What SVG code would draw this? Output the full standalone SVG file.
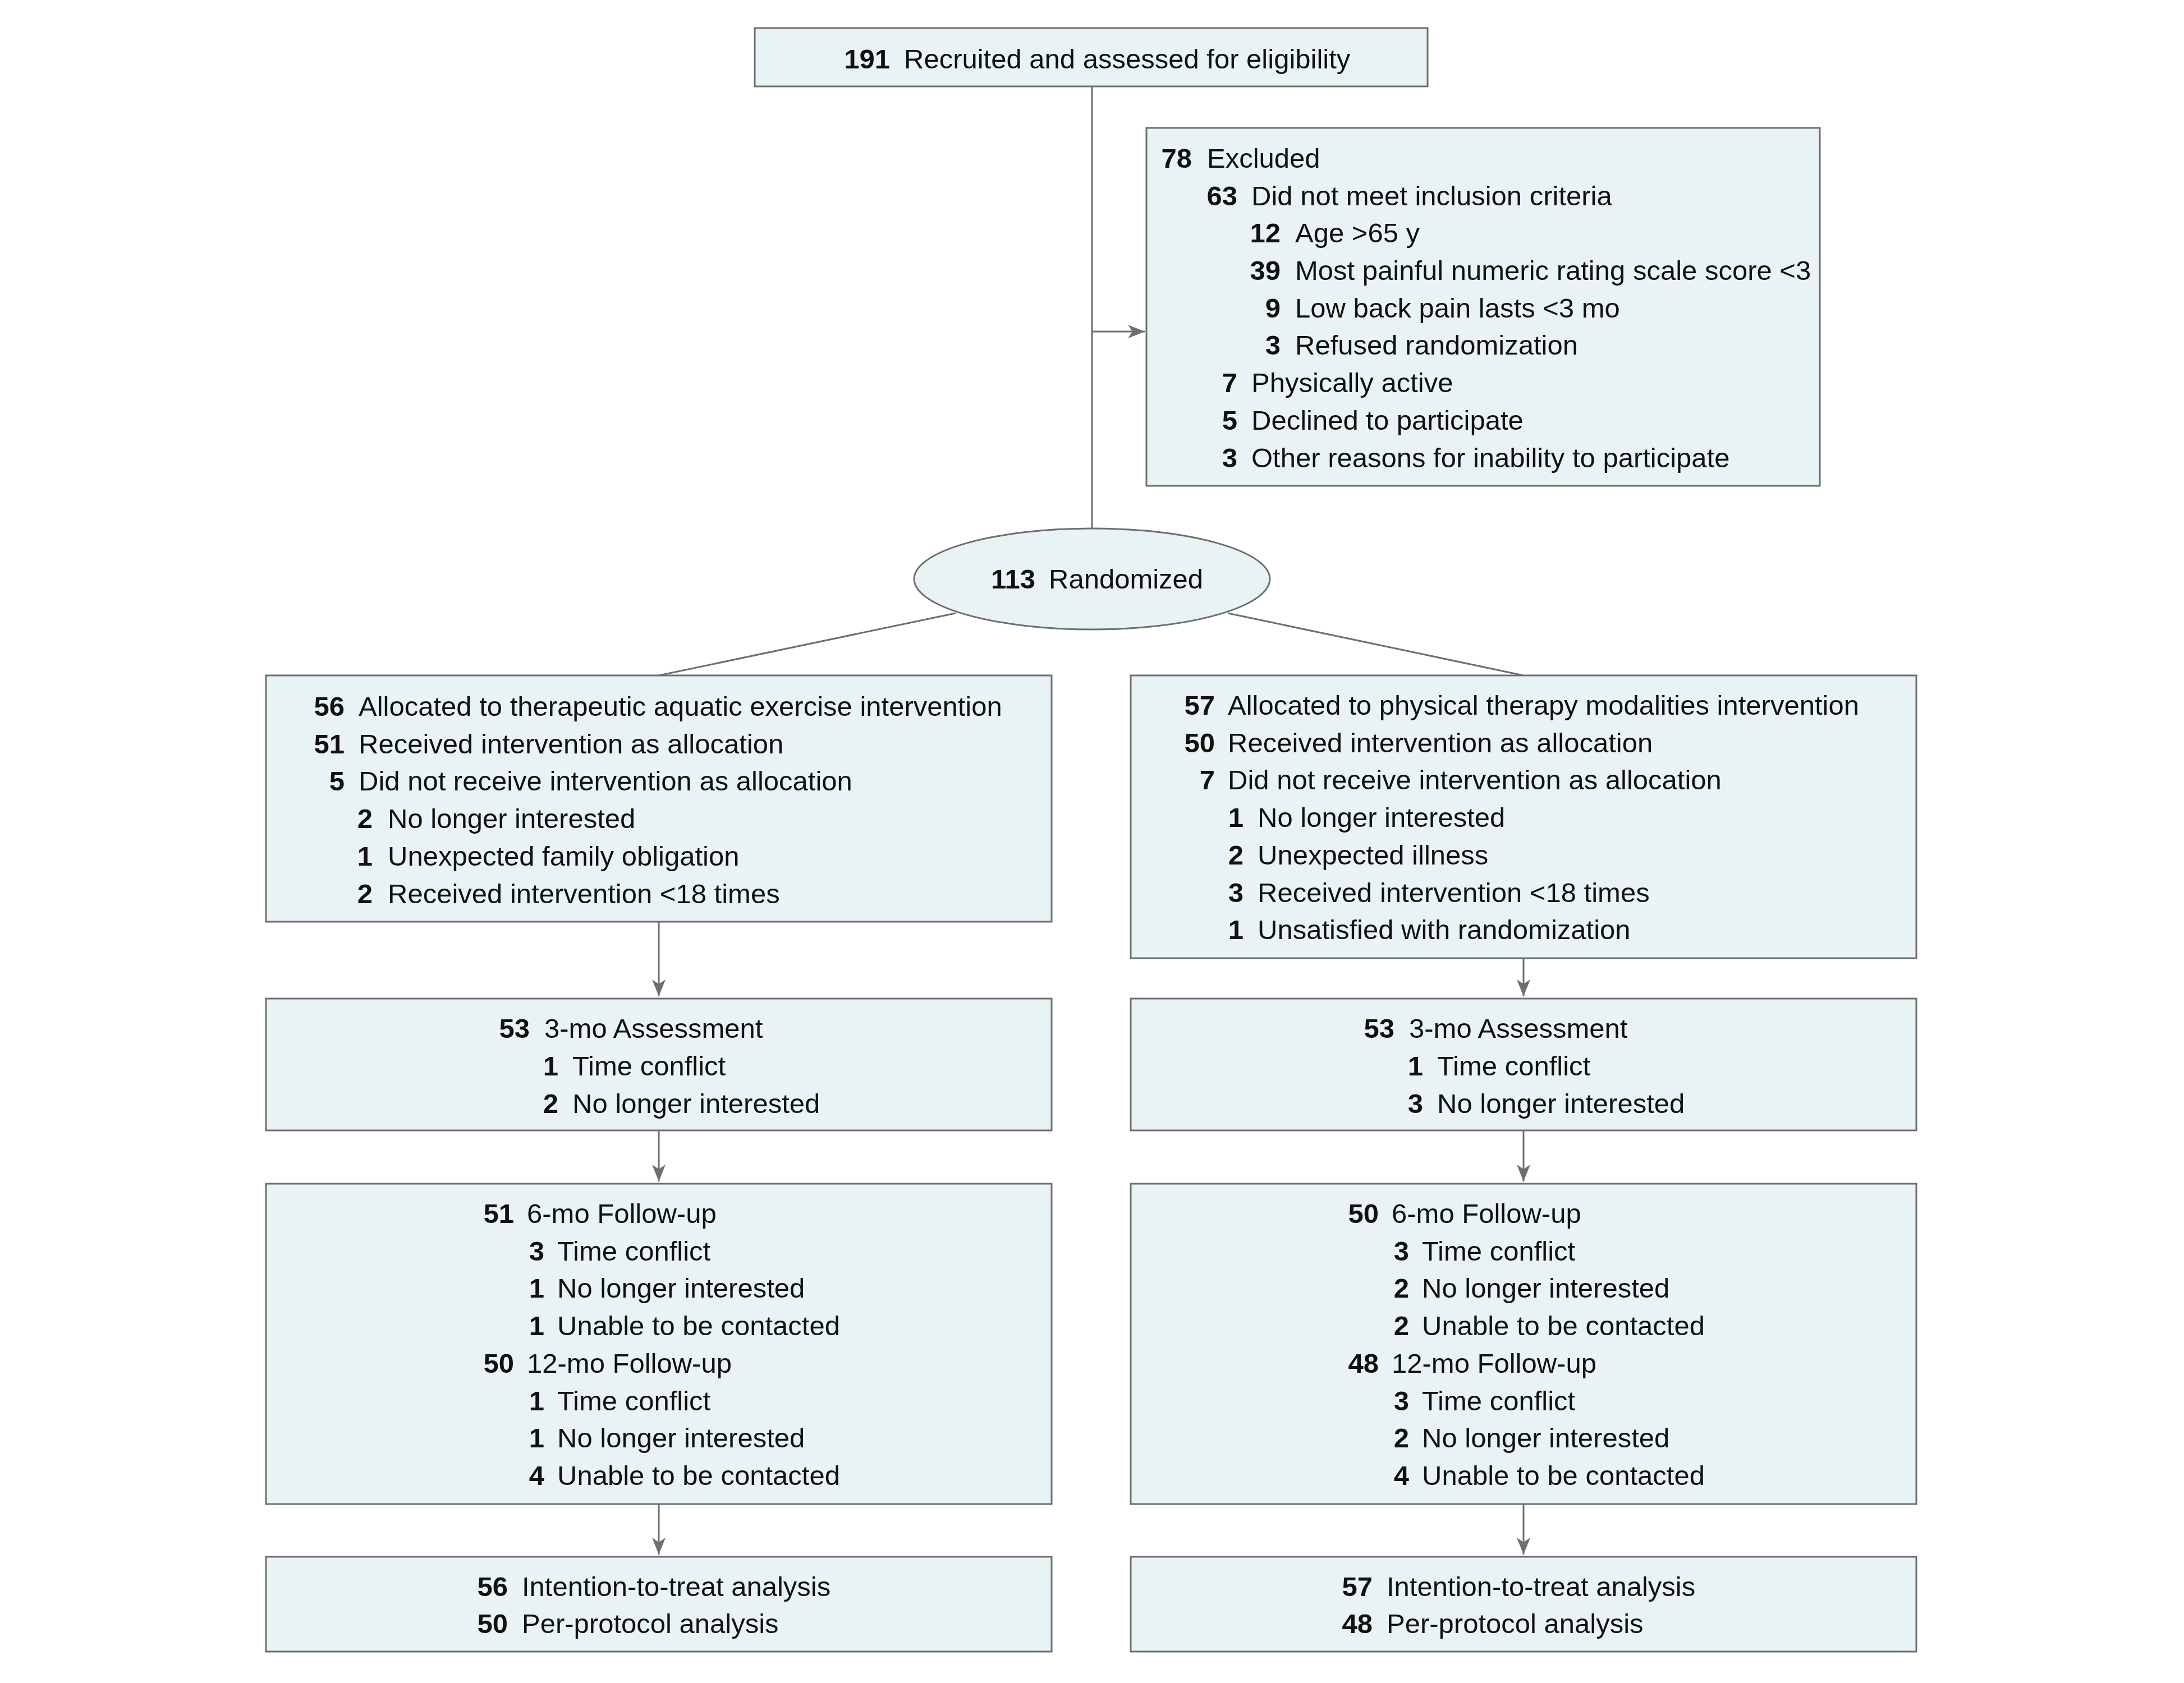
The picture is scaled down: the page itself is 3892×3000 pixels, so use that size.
<svg xmlns="http://www.w3.org/2000/svg" width="3892" height="3000" viewBox="0 0 3892 3000">
<style>
.box{fill:#e9f3f4;stroke:#6d6e71;stroke-width:3}
.conn{fill:none;stroke:#6d6e71;stroke-width:3}
text{font-family:"Liberation Sans",Arial,sans-serif;font-size:49px;fill:#111}
.n{font-weight:bold;text-anchor:end}
</style>
<defs>
<marker id="arr" markerUnits="userSpaceOnUse" markerWidth="32" markerHeight="26" refX="30" refY="12" orient="auto">
<path d="M0,0 L30,12 L0,24 L8,12 Z" fill="#6d6e71"/>
</marker>
</defs>
<rect width="3892" height="3000" fill="#fff"/>
<g id="connectors">
<line class="conn" x1="1946" y1="154" x2="1946" y2="942"/>
<line class="conn" x1="1946" y1="591" x2="2040" y2="591" marker-end="url(#arr)"/>
<line class="conn" x1="1703" y1="1093" x2="1174" y2="1204"/>
<line class="conn" x1="2188" y1="1093" x2="2715" y2="1204"/>
<line class="conn" x1="1174" y1="1643" x2="1174" y2="1776" marker-end="url(#arr)"/>
<line class="conn" x1="2715" y1="1708" x2="2715" y2="1776" marker-end="url(#arr)"/>
<line class="conn" x1="1174" y1="2015" x2="1174" y2="2106" marker-end="url(#arr)"/>
<line class="conn" x1="2715" y1="2015" x2="2715" y2="2106" marker-end="url(#arr)"/>
<line class="conn" x1="1174" y1="2681" x2="1174" y2="2771" marker-end="url(#arr)"/>
<line class="conn" x1="2715" y1="2681" x2="2715" y2="2771" marker-end="url(#arr)"/>
</g>
<g id="recruited">
<rect class="box" x="1345" y="50" width="1199" height="104"/>
<text class="n" x="1586" y="122">191</text><text x="1611" y="122">Recruited and assessed for eligibility</text>
</g>
<g id="excluded">
<rect class="box" x="2043" y="228" width="1200" height="638"/>
<text class="n" x="2124" y="299">78</text><text x="2151" y="299">Excluded</text>
<text class="n" x="2205" y="366">63</text><text x="2230" y="366">Did not meet inclusion criteria</text>
<text class="n" x="2282" y="432">12</text><text x="2308" y="432">Age &gt;65 y</text>
<text class="n" x="2282" y="499">39</text><text x="2308" y="499">Most painful numeric rating scale score &lt;3</text>
<text class="n" x="2282" y="566">9</text><text x="2308" y="566">Low back pain lasts &lt;3 mo</text>
<text class="n" x="2282" y="632">3</text><text x="2308" y="632">Refused randomization</text>
<text class="n" x="2205" y="699">7</text><text x="2230" y="699">Physically active</text>
<text class="n" x="2205" y="766">5</text><text x="2230" y="766">Declined to participate</text>
<text class="n" x="2205" y="833">3</text><text x="2230" y="833">Other reasons for inability to participate</text>
</g>
<g id="randomized">
<ellipse class="box" cx="1946" cy="1032" rx="317" ry="90"/>
<text class="n" x="1845" y="1049">113</text><text x="1869" y="1049">Randomized</text>
</g>
<g id="alloc-left">
<rect class="box" x="474" y="1204" width="1400" height="439"/>
<text class="n" x="614" y="1276">56</text><text x="639" y="1276">Allocated to therapeutic aquatic exercise intervention</text>
<text class="n" x="614" y="1343">51</text><text x="639" y="1343">Received intervention as allocation</text>
<text class="n" x="614" y="1409">5</text><text x="639" y="1409">Did not receive intervention as allocation</text>
<text class="n" x="664" y="1476">2</text><text x="691" y="1476">No longer interested</text>
<text class="n" x="664" y="1543">1</text><text x="691" y="1543">Unexpected family obligation</text>
<text class="n" x="664" y="1610">2</text><text x="691" y="1610">Received intervention &lt;18 times</text>
</g>
<g id="alloc-right">
<rect class="box" x="2015" y="1204" width="1400" height="504"/>
<text class="n" x="2165" y="1274">57</text><text x="2188" y="1274">Allocated to physical therapy modalities intervention</text>
<text class="n" x="2165" y="1341">50</text><text x="2188" y="1341">Received intervention as allocation</text>
<text class="n" x="2165" y="1407">7</text><text x="2188" y="1407">Did not receive intervention as allocation</text>
<text class="n" x="2216" y="1474">1</text><text x="2241" y="1474">No longer interested</text>
<text class="n" x="2216" y="1541">2</text><text x="2241" y="1541">Unexpected illness</text>
<text class="n" x="2216" y="1608">3</text><text x="2241" y="1608">Received intervention &lt;18 times</text>
<text class="n" x="2216" y="1674">1</text><text x="2241" y="1674">Unsatisfied with randomization</text>
</g>
<g id="m3-left">
<rect class="box" x="474" y="1780" width="1400" height="235"/>
<text class="n" x="944" y="1850">53</text><text x="970" y="1850">3-mo Assessment</text>
<text class="n" x="995" y="1917">1</text><text x="1020" y="1917">Time conflict</text>
<text class="n" x="995" y="1984">2</text><text x="1020" y="1984">No longer interested</text>
</g>
<g id="m3-right">
<rect class="box" x="2015" y="1780" width="1400" height="235"/>
<text class="n" x="2485" y="1850">53</text><text x="2511" y="1850">3-mo Assessment</text>
<text class="n" x="2536" y="1917">1</text><text x="2561" y="1917">Time conflict</text>
<text class="n" x="2536" y="1984">3</text><text x="2561" y="1984">No longer interested</text>
</g>
<g id="followup-left">
<rect class="box" x="474" y="2110" width="1400" height="571"/>
<text class="n" x="916" y="2180">51</text><text x="939" y="2180">6-mo Follow-up</text>
<text class="n" x="970" y="2247">3</text><text x="993" y="2247">Time conflict</text>
<text class="n" x="970" y="2313">1</text><text x="993" y="2313">No longer interested</text>
<text class="n" x="970" y="2380">1</text><text x="993" y="2380">Unable to be contacted</text>
<text class="n" x="916" y="2447">50</text><text x="939" y="2447">12-mo Follow-up</text>
<text class="n" x="970" y="2514">1</text><text x="993" y="2514">Time conflict</text>
<text class="n" x="970" y="2580">1</text><text x="993" y="2580">No longer interested</text>
<text class="n" x="970" y="2647">4</text><text x="993" y="2647">Unable to be contacted</text>
</g>
<g id="followup-right">
<rect class="box" x="2015" y="2110" width="1400" height="571"/>
<text class="n" x="2457" y="2180">50</text><text x="2480" y="2180">6-mo Follow-up</text>
<text class="n" x="2511" y="2247">3</text><text x="2534" y="2247">Time conflict</text>
<text class="n" x="2511" y="2313">2</text><text x="2534" y="2313">No longer interested</text>
<text class="n" x="2511" y="2380">2</text><text x="2534" y="2380">Unable to be contacted</text>
<text class="n" x="2457" y="2447">48</text><text x="2480" y="2447">12-mo Follow-up</text>
<text class="n" x="2511" y="2514">3</text><text x="2534" y="2514">Time conflict</text>
<text class="n" x="2511" y="2580">2</text><text x="2534" y="2580">No longer interested</text>
<text class="n" x="2511" y="2647">4</text><text x="2534" y="2647">Unable to be contacted</text>
</g>
<g id="analysis-left">
<rect class="box" x="474" y="2775" width="1400" height="169"/>
<text class="n" x="905" y="2845">56</text><text x="930" y="2845">Intention-to-treat analysis</text>
<text class="n" x="905" y="2911">50</text><text x="930" y="2911">Per-protocol analysis</text>
</g>
<g id="analysis-right">
<rect class="box" x="2015" y="2775" width="1400" height="169"/>
<text class="n" x="2446" y="2845">57</text><text x="2471" y="2845">Intention-to-treat analysis</text>
<text class="n" x="2446" y="2911">48</text><text x="2471" y="2911">Per-protocol analysis</text>
</g>
</svg>
